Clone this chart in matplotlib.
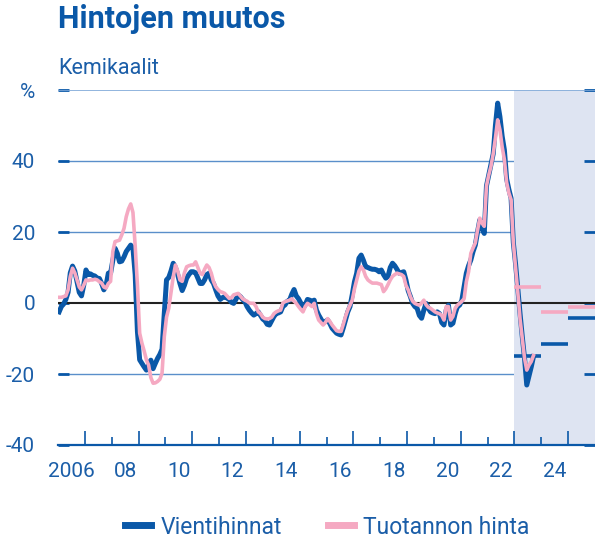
import numpy as np
import pandas as pd
import matplotlib
matplotlib.use("Agg")
import matplotlib.pyplot as plt
from matplotlib.lines import Line2D

plt.rcParams['font.family'] = ['Roboto', 'DejaVu Sans']

# monthly year-on-year change, %, Jan 2006 - Sep 2023
vienti = [
    -2.5, -1.0, -0.3, 1.0, 3.0, 8.5, 10.4, 9.0, 6.0, 3.0, 2.0, 5.0,          # 2006
    9.3, 8.0, 8.2, 7.8, 7.6, 7.0, 6.9, 5.5, 3.7, 5.0, 8.4, 8.4,              # 2007
    12.0, 15.4, 14.0, 11.6, 11.8, 13.0, 14.5, 15.4, 16.3, 15.5, 8.0, -8.0,   # 2008
    -16.0, -17.0, -18.0, -18.9, -17.5, -16.1, -18.5, -17.0, -15.6, -14.5, -13.0, -3.0,  # 2009
    6.5, 7.2, 9.0, 11.2, 10.0, 8.0, 5.5, 3.5, 5.0, 7.0, 8.0, 8.8,            # 2010
    8.8, 8.5, 7.0, 5.5, 5.5, 6.5, 8.0, 8.4, 6.5, 5.5, 3.7, 2.0,              # 2011
    1.0, 1.5, 1.8, 1.4, 1.0, 0.2, -0.1, 1.0, 2.3, 1.8, 1.0, 0.4,             # 2012
    -1.0, -2.0, -2.8, -3.4, -3.0, -2.5, -3.5, -4.5, -5.0, -6.0, -6.2, -5.0,  # 2013
    -3.8, -3.0, -2.8, -2.5, -1.0, -0.5, 0.5, 0.8, 2.5, 3.8, 2.0, 1.2,        # 2014
    0.0, -1.5, -0.5, 1.0, 0.8, 0.4, 0.8, -2.0, -3.4, -4.5, -5.6, -5.2,       # 2015
    -4.8, -5.8, -7.1, -7.8, -8.5, -8.8, -9.0, -7.0, -4.8, -2.5, -1.0, 2.3,   # 2016
    6.0, 8.4, 12.6, 13.5, 12.0, 10.2, 10.0, 9.7, 9.5, 9.5, 9.3, 8.8,         # 2017
    9.3, 8.0, 7.0, 7.5, 10.0, 11.2, 10.5, 9.5, 8.4, 8.6, 8.8, 6.5,           # 2018
    3.5, 1.8, -0.1, -1.0, -1.5, -3.5, -4.3, -2.0, -0.1, -1.5, -2.5, -2.8,    # 2019
    -3.0, -2.5, -3.0, -5.5, -6.2, -2.0, -0.6, -6.2, -5.7, -3.0, -1.0, -0.6,  # 2020
    0.8, 4.6, 8.4, 10.5, 12.1, 14.5, 16.3, 20.0, 23.4, 21.0, 19.6, 33.0,     # 2021
    36.0, 38.9, 42.0, 50.0, 56.3, 52.5, 47.0, 43.1, 35.0, 32.0, 29.5, 17.0,  # 2022
    11.0, 4.0, -3.0, -9.5, -15.5, -23.1, -20.5, -18.0, -15.1,                # 2023
]

tuotanto = [
    1.6, 1.6, 1.8, 2.0, 3.7, 7.5, 9.8, 8.5, 6.5, 4.5, 3.7, 5.0,              # 2006
    6.5, 6.3, 6.5, 6.5, 6.7, 6.5, 6.0, 5.6, 4.5, 4.2, 5.5, 6.1,              # 2007
    14.5, 17.3, 17.5, 17.7, 19.2, 21.0, 24.3, 26.5, 27.9, 25.5, 16.0, 5.0,   # 2008
    -8.5, -11.3, -13.5, -16.0, -17.5, -21.0, -22.6, -22.5, -22.1, -21.5, -19.8, -9.5,  # 2009
    -4.0, -1.5, 3.0, 7.4, 10.7, 9.0, 6.5, 6.1, 8.5, 10.2, 10.5, 10.7,        # 2010
    10.7, 11.6, 10.0, 8.4, 8.0, 9.5, 10.7, 10.0, 8.4, 6.0, 4.6, 3.8,         # 2011
    3.2, 3.0, 2.7, 2.0, 1.3, 1.5, 2.3, 2.5, 2.7, 2.0, 1.2, 0.8,              # 2012
    0.5, 0.0, -0.1, -0.1, -1.0, -2.5, -3.0, -4.0, -4.4, -4.5, -4.4, -4.0,    # 2013
    -3.0, -2.5, -2.2, -2.0, 0.0, 0.4, 0.6, 0.8, 1.2, 0.5, -0.1, -1.0,        # 2014
    -1.8, -2.5, -1.0, -0.1, -0.5, -1.0, -0.1, -3.0, -4.8, -5.5, -6.2, -5.5,  # 2015
    -4.4, -5.2, -6.2, -7.0, -7.8, -8.0, -8.0, -6.0, -3.8, -2.0, -0.6, 0.8,   # 2016
    4.0, 6.5, 9.0, 10.2, 9.3, 7.5, 6.5, 6.0, 5.6, 5.6, 5.6, 5.4,             # 2017
    5.2, 3.2, 4.0, 5.2, 6.5, 7.5, 8.0, 8.4, 8.2, 8.0, 7.5, 5.0,              # 2018
    3.7, 1.8, 0.5, -0.1, -0.4, -0.6, 0.0, 0.8, -0.5, -1.2, -1.5, -2.0,       # 2019
    -2.5, -2.8, -3.0, -3.5, -4.8, -1.0, -1.0, -4.8, -3.8, -1.5, -0.6, -0.1,  # 2020
    0.5, 1.2, 6.0, 8.8, 14.0, 15.5, 16.9, 20.5, 23.9, 22.5, 21.6, 33.0,      # 2021
    36.0, 38.5, 42.0, 46.5, 51.6, 48.8, 44.0, 40.4, 34.0, 31.0, 29.1, 17.0,  # 2022
    10.0, 3.0, -4.5, -10.0, -15.5, -18.9, -17.5, -16.5, -14.8,               # 2023
]

# annual forecasts
ennuste_vuodet = [2023, 2024, 2025]
vienti_ennuste = [-15.0, -11.5, -4.3]
tuotanto_ennuste = [4.5, -2.5, -1.2]

ytick_values = [-40, -20, 0, 20, 40, 60]
ytick_labels = ['-40', '-20', '0', '20', '40', '%']
xlabel_years = [2006, 2008, 2010, 2012, 2014, 2016, 2018, 2020, 2022, 2024]
xlabel_texts = ['2006', '08', '10', '12', '14', '16', '18', '20', '22', '24']

BLUE = '#0a58a8'
PINK = '#f5a9c2'
GRID = '#5a8fca'
SHADE = '#dee4f2'
TEXT = '#1b5ea8'

dates = pd.date_range('2006-01-01', periods=len(vienti), freq='MS')
t = dates.year + (dates.month - 0.5) / 12

fig = plt.figure(figsize=(5.95, 5.42), dpi=100)
ax = fig.add_axes([58 / 595, 97 / 542, 537 / 595, 355 / 542])
ax.set_xlim(2006, 2026)
ax.set_ylim(-40, 60)

for v in [20, 40, -20]:
    ax.axhline(v, color=GRID, lw=1.0, zorder=1)
ax.axvspan(2023, 2026, color=SHADE, lw=0, zorder=1.5)
ax.axhline(60, color='#7ea8d8', lw=1.2, zorder=2)
ax.axhline(0, color='#222222', lw=1.5, zorder=2)

ax.plot(t, vienti, color=BLUE, lw=3.6, zorder=3, solid_joinstyle='round')
ax.plot(t, tuotanto, color=PINK, lw=2.6, zorder=4, solid_joinstyle='round')

for i, yr in enumerate(ennuste_vuodet):
    ax.hlines(vienti_ennuste[i], yr, yr + 1, color=BLUE, lw=2.6, zorder=3)
    ax.hlines(tuotanto_ennuste[i], yr, yr + 1, color=PINK, lw=2.6, zorder=3)

for s in ['top', 'left', 'right']:
    ax.spines[s].set_visible(False)
ax.spines['bottom'].set_color(BLUE)
ax.spines['bottom'].set_linewidth(1.6)
ax.spines['bottom'].set_zorder(5)

ax.set_yticks(ytick_values)
ax.set_yticklabels(ytick_labels)
ax.tick_params(axis='y', direction='in', length=8, width=2, color=BLUE,
               labelcolor=TEXT, labelsize=15, pad=16.5, left=True, right=True)

ax.set_xticks(range(2007, 2026, 2))
ax.set_xticks(range(2008, 2026, 2), minor=True)
ax.tick_params(axis='x', which='major', direction='in', length=10, width=1.2,
               color=BLUE, labelbottom=False)
ax.tick_params(axis='x', which='minor', direction='in', length=6, width=1.2,
               color=BLUE, labelbottom=False)
for yr, lab in zip(xlabel_years, xlabel_texts):
    ax.text(yr + 0.5, -0.075, lab, transform=ax.get_xaxis_transform(),
            ha='center', va='center', fontsize=15, color=TEXT)

fig.text(58 / 595, 1 - 19 / 542, 'Hintojen muutos', fontsize=22, fontweight='bold',
         color=BLUE, ha='left', va='center')
fig.text(58 / 595, 1 - 69 / 542, 'Kemikaalit', fontsize=15.5, color=TEXT,
         ha='left', va='center')

handles = [Line2D([], [], color=BLUE, lw=5), Line2D([], [], color=PINK, lw=5)]
fig.legend(handles, ['Vientihinnat', 'Tuotannon hinta'], loc='center',
           bbox_to_anchor=(0.55, 1 - 527 / 542), ncol=2, frameon=False,
           fontsize=16.5, handlelength=1.15, handletextpad=0.4, columnspacing=2.0,
           labelcolor=TEXT)

fig.savefig('out.png', dpi=100)
